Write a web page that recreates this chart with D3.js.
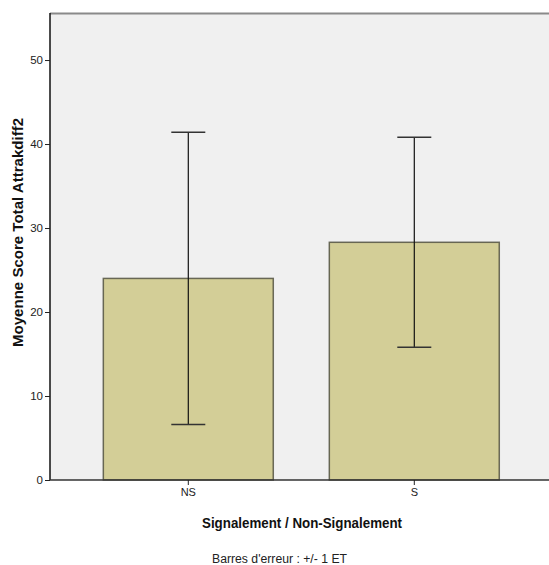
<!DOCTYPE html>
<html>
<head>
<meta charset="utf-8">
<script src="https://cdn.jsdelivr.net/npm/d3@7"></script>
<style>
  html, body { margin: 0; padding: 0; background: #ffffff; }
  svg { display: block; }
  text { font-family: "Liberation Sans", Arial, sans-serif; }
</style>
</head>
<body>
<svg id="chart" width="549" height="565"></svg>
<script>
// Groups and their mean scores with ±1 standard deviation
const categories = ["NS", "S"];
const means = [24.0, 28.3];
const stdDevs = [17.4, 12.5];
const yTicks = [0, 10, 20, 30, 40, 50];

const svg = d3.select("#chart");
const plot = { left: 50, right: 549, top: 13, bottom: 480 };

const y = d3.scaleLinear()
  .domain([0, 55.6])
  .range([plot.bottom, plot.top]);

const x = d3.scaleBand()
  .domain(categories)
  .range([75.3, 527.3])
  .paddingInner(0.248)
  .paddingOuter(0.124);

// Plot background
svg.append("rect")
  .attr("x", plot.left).attr("y", plot.top)
  .attr("width", plot.right - plot.left)
  .attr("height", plot.bottom - plot.top)
  .attr("fill", "#f0f0f0");

// Top frame line
svg.append("line")
  .attr("x1", plot.left).attr("x2", plot.right)
  .attr("y1", plot.top + 0.5).attr("y2", plot.top + 0.5)
  .attr("stroke", "#8a8a8a").attr("stroke-width", 2);

const data = categories.map((c, i) => ({ c, m: means[i], sd: stdDevs[i] }));

// Bars
svg.append("g").selectAll("rect")
  .data(data)
  .join("rect")
  .attr("x", d => x(d.c))
  .attr("y", d => y(d.m))
  .attr("width", x.bandwidth())
  .attr("height", d => y(0) - y(d.m))
  .attr("fill", "#d3ce97")
  .attr("stroke", "#4a4a3a")
  .attr("stroke-opacity", 0.8)
  .attr("stroke-width", 1.5);

// Error bars (±1 SD)
const eg = svg.append("g");
const capHalf = 17;
data.forEach(d => {
  const cx = x(d.c) + x.bandwidth() / 2;
  eg.append("line")
    .attr("x1", cx).attr("x2", cx)
    .attr("y1", y(d.m + d.sd)).attr("y2", y(d.m - d.sd))
    .attr("stroke", "#111").attr("stroke-width", 1.2);
  [d.m + d.sd, d.m - d.sd].forEach(v => {
    eg.append("line")
      .attr("x1", cx - capHalf).attr("x2", cx + capHalf)
      .attr("y1", y(v)).attr("y2", y(v))
      .attr("stroke", "#333").attr("stroke-width", 1.6);
  });
});

// Y axis
const yAxis = svg.append("g")
  .attr("transform", `translate(${plot.left},0)`)
  .call(d3.axisLeft(y).tickValues(yTicks).tickSize(5).tickPadding(2).tickFormat(d3.format("d")));
yAxis.select(".domain").attr("stroke", "#111").attr("stroke-width", 1.5)
  .attr("d", `M0,${plot.bottom}V${plot.top}`);
yAxis.selectAll(".tick line").attr("stroke", "#222");
yAxis.selectAll(".tick text")
  .attr("font-size", 11.5).attr("fill", "#222");

// X axis
const xAxis = svg.append("g")
  .attr("transform", `translate(0,${plot.bottom})`)
  .call(d3.axisBottom(x).tickSize(5).tickPadding(3));
xAxis.select(".domain").attr("stroke", "#333").attr("stroke-width", 1.5)
  .attr("d", `M${plot.left},0H${plot.right}`);
xAxis.selectAll(".tick line").attr("stroke", "#222");
xAxis.selectAll(".tick text")
  .attr("font-size", 11).attr("fill", "#222");

// Axis titles
svg.append("text")
  .attr("transform", "translate(23,232.5) rotate(-90)")
  .attr("text-anchor", "middle")
  .attr("font-size", 15).attr("font-weight", "bold").attr("fill", "#111")
  .attr("textLength", 229).attr("lengthAdjust", "spacingAndGlyphs")
  .text("Moyenne Score Total Attrakdiff2");

svg.append("text")
  .attr("x", 302).attr("y", 528)
  .attr("text-anchor", "middle")
  .attr("font-size", 15).attr("font-weight", "bold").attr("fill", "#111")
  .attr("textLength", 200).attr("lengthAdjust", "spacingAndGlyphs")
  .text("Signalement / Non-Signalement");

svg.append("text")
  .attr("x", 279.5).attr("y", 563)
  .attr("text-anchor", "middle")
  .attr("font-size", 12.5).attr("fill", "#222")
  .attr("textLength", 135).attr("lengthAdjust", "spacingAndGlyphs")
  .text("Barres d'erreur : +/- 1 ET");
</script>
</body>
</html>
